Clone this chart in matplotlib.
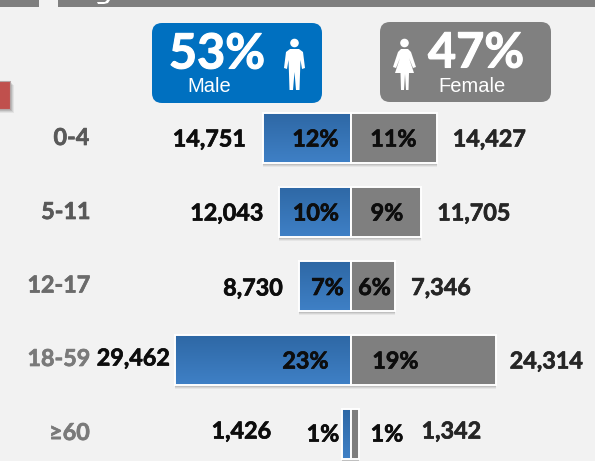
import numpy as np
import matplotlib
matplotlib.use("Agg")
import matplotlib.pyplot as plt
import matplotlib.patheffects as pe
from matplotlib.patches import Rectangle, FancyBboxPatch, Polygon, Circle
from matplotlib.transforms import Affine2D

age_groups = ["0-4", "5-11", "12-17", "18-59", "≥60"]
male_counts = [14751, 12043, 8730, 29462, 1426]
female_counts = [14427, 11705, 7346, 24314, 1342]
male_pct = ["12%", "10%", "7%", "23%", "1%"]
female_pct = ["11%", "9%", "6%", "19%", "1%"]
male_share = "53%"
female_share = "47%"

W, H = 595, 461
BG = "#f2f2f2"
GREY = "#7f7f7f"
FONT = "Lato"
SIZE = 16.8
SCALE = 0.00597
CENTER = 351

fig = plt.figure(figsize=(W / 100, H / 100), dpi=100, facecolor=BG)
ax = fig.add_axes([0, 0, 1, 1])
ax.set_xlim(-CENTER / SCALE, (W - CENTER) / SCALE)
ax.set_ylim((H - 138) / 73.9, -138 / 73.9)
ax.axis("off")

# pixel overlay for the decorative layer
px = Affine2D().scale(1 / W, -1 / H).translate(0, 1) + fig.transFigure


def heavy(color, lw=0.5):
    return [pe.withStroke(linewidth=lw, foreground=color)]


# header strip
for x0, x1 in [(0, 39), (58, 595)]:
    ax.add_patch(Rectangle((x0, 0), x1 - x0, 7, transform=px, fc=GREY, ec="none"))
ax.add_patch(Polygon([(97, 2), (105, 2), (107, 0), (110, 0), (108, 3), (104, 4), (98, 4)],
                     transform=px, fc="white", ec="none"))

# red tab
for off, a in [(4, 0.06), (3, 0.08), (2, 0.1), (1, 0.12)]:
    ax.add_patch(Rectangle((-2, 81 + off), 12 + off, 28, transform=px, fc="black", alpha=a, ec="none"))
ax.add_patch(Rectangle((-2, 81), 12, 28, transform=px, fc="#c0504d", ec="#b5a5a5", lw=0.8))


def badge(x0, x1, y0, y1, color):
    ax.add_patch(FancyBboxPatch((x0 + 10, y0 + 10), x1 - x0 - 20, y1 - y0 - 20,
                                boxstyle="round,pad=10,rounding_size=10",
                                transform=px, fc=color, ec="none"))


badge(152, 322, 23, 103, "#0070c0")
badge(380, 551, 22, 102, "#808080")

ax.text(217, 54, male_share, transform=px, family=FONT, weight="bold", fontsize=35, color="white",
        ha="center", va="center", path_effects=heavy("white", 0.8))
ax.text(209, 86, "Male", transform=px, family="Liberation Sans", fontsize=14.5, color="white",
        ha="center", va="center")
ax.text(476, 53, female_share, transform=px, family=FONT, weight="bold", fontsize=35, color="white",
        ha="center", va="center", path_effects=heavy("white", 0.8))
ax.text(472, 86, "Female", transform=px, family="Liberation Sans", fontsize=14.5, color="white",
        ha="center", va="center")

# male icon
ax.add_patch(Circle((294.5, 43), 4.3, transform=px, fc="white", ec="none"))
ax.add_patch(Polygon([(290, 49), (299, 49), (303, 52), (305, 68), (302, 69), (300.5, 60), (300, 74),
                      (299.5, 90), (296, 90), (294.5, 72), (293, 90), (289.5, 90),
                      (289, 74), (288.5, 60), (287, 69), (284, 68), (286, 52)],
                     transform=px, fc="white", ec="none"))
# female icon
ax.add_patch(Circle((404.5, 43), 4.3, transform=px, fc="white", ec="none"))
ax.add_patch(Polygon([(401, 49), (408, 49), (411, 52), (416, 67), (413, 68), (409, 58),
                      (414, 73), (409, 73), (408.5, 90), (406, 90), (405, 74), (404, 90),
                      (401, 90), (400.5, 73), (395, 73), (400, 58), (396, 68), (393, 67), (398, 52)],
                     transform=px, fc="white", ec="none"))

# bars
gradient = np.linspace(0, 1, 64).reshape(-1, 1)
cmap = matplotlib.colors.LinearSegmentedColormap.from_list("b", ["#2e68a5", "#3f80c6"])
half = 25 / 73.9
for i, (m, f) in enumerate(zip(male_counts, female_counts)):
    top, bottom = i - half, i + half
    # shadow
    for d, a in [(4, 0.05), (3, 0.07), (2, 0.09), (1, 0.12)]:
        ax.add_patch(Rectangle((-m, top), m + f, 2 * half + d / 73.9, fc="black", alpha=a, ec="none", zorder=1))
    ax.imshow(gradient, extent=(-m, 0, bottom, top), aspect="auto", cmap=cmap, zorder=2, interpolation="bilinear")
    ax.add_patch(Rectangle((-m, top), m, 2 * half, fc="none", ec="white", lw=1.4, zorder=3))
    ax.add_patch(Rectangle((0, top), f, 2 * half, fc=GREY, ec="white", lw=1.4, zorder=3))
ax.set_xlim(-CENTER / SCALE, (W - CENTER) / SCALE)
ax.set_ylim((H - 138) / 73.9, -138 / 73.9)

# labels: pixel centres
age_x = [71.5, 66, 59, 59, 69.5]
age_y = [138.5, 212.5, 286, 359.5, 433.5]
age_c = ["#595959", "#595959", "#6b6b6b", "#7a7a7a", "#7a7a7a"]
male_x = [209.5, 227, 253, 133.5, 241.5]
male_y = [140, 214, 289, 359, 432]
female_x = [489.5, 474, 441, 546.5, 451.5]
female_y = [140, 214, 288.5, 362, 432]
mp_x = [315.5, 316, 327.5, 305.5, 323]
mp_y = [140, 214, 288.5, 362, 435]
fp_x = [393.5, 387, 374.5, 395.5, 387]
fp_y = [140, 214, 288.5, 362, 435]

for i in range(5):
    ax.text(age_x[i], age_y[i], age_groups[i], transform=px, family=FONT, weight="bold", fontsize=SIZE,
            color=age_c[i], ha="center", va="center", path_effects=heavy(age_c[i]))
    ax.text(male_x[i], male_y[i], f"{male_counts[i]:,}", transform=px, family=FONT, weight="bold", fontsize=SIZE,
            color="#0d0d0d", ha="center", va="center", zorder=5, path_effects=heavy("#0d0d0d"))
    ax.text(female_x[i], female_y[i], f"{female_counts[i]:,}", transform=px, family=FONT, weight="bold", fontsize=SIZE,
            color="#262626", ha="center", va="center", zorder=5, path_effects=heavy("#262626"))
    ax.text(mp_x[i], mp_y[i], male_pct[i], transform=px, family=FONT, weight="bold", fontsize=SIZE,
            color="#0d0d0d", ha="center", va="center", zorder=5, path_effects=heavy("#0d0d0d"))
    ax.text(fp_x[i], fp_y[i], female_pct[i], transform=px, family=FONT, weight="bold", fontsize=SIZE,
            color="#0d0d0d", ha="center", va="center", zorder=5, path_effects=heavy("#0d0d0d"))

fig.savefig("out.png", dpi=100, facecolor=BG)
